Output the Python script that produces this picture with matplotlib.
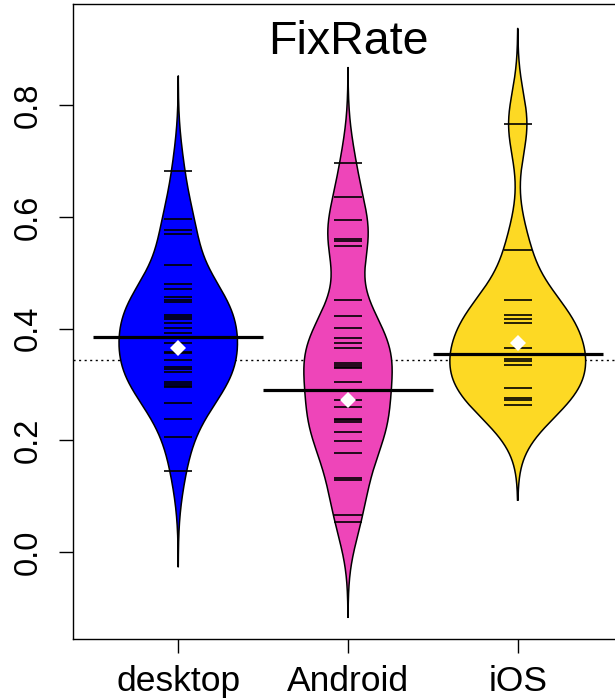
import numpy as np
import matplotlib
matplotlib.use("Agg")
import matplotlib.pyplot as plt

plt.rcParams['font.family'] = ['Liberation Sans', 'DejaVu Sans']

# Groups and observed FixRate values per group
groups = ["desktop", "Android", "iOS"]
desktop = [0.682, 0.597, 0.576, 0.570, 0.515, 0.481, 0.471, 0.456, 0.451, 0.447,
           0.425, 0.421, 0.418, 0.410, 0.402, 0.393, 0.375, 0.359, 0.356, 0.344,
           0.332, 0.328, 0.323, 0.304, 0.301, 0.298, 0.296, 0.267, 0.238, 0.206,
           0.145]
android = [0.697, 0.636, 0.595, 0.561, 0.557, 0.549, 0.451, 0.422, 0.402, 0.384,
           0.374, 0.366, 0.338, 0.335, 0.332, 0.329, 0.305, 0.272, 0.259, 0.239,
           0.236, 0.233, 0.215, 0.199, 0.177, 0.133, 0.129, 0.066, 0.054]
ios = [0.767, 0.541, 0.451, 0.425, 0.417, 0.410, 0.365, 0.346, 0.343, 0.335,
       0.294, 0.276, 0.273, 0.264]

# Per-bean average line, white diamond markers and the overall line
bean_avg = [0.386, 0.291, 0.355]
diamond = [0.365, 0.273, 0.374]
overall = 0.344

colors = ["#0000FF", "#EE45B9", "#FDD924"]
y_ticks = [0.0, 0.2, 0.4, 0.6, 0.8]

data = [np.asarray(desktop), np.asarray(android), np.asarray(ios)]

bw = 0.057      # shared Gaussian kernel bandwidth
cut = 3.0
maxwidth = 0.8


def kde(values, grid, h):
    z = (grid[:, None] - values[None, :]) / h
    return np.exp(-0.5 * z ** 2).sum(axis=1) / (len(values) * h * np.sqrt(2 * np.pi))


grids, dens = [], []
for v in data:
    g = np.linspace(v.min() - cut * bw, v.max() + cut * bw, 600)
    grids.append(g)
    dens.append(kde(v, g, bw))
dmax = max(d.max() for d in dens)

fig = plt.figure(figsize=(6.15, 6.98), dpi=100)
ax = fig.add_axes([0.1187, 0.0845, 1.013 - 0.1187, 0.9936 - 0.0845])

ax.axhline(overall, color="black", lw=1.0, ls=(0, (1.5, 2.5)), zorder=1)

for i, (v, g, d, c) in enumerate(zip(data, grids, dens, colors)):
    pos = i + 1
    w = d / dmax * maxwidth / 2
    ax.fill_betweenx(g, pos - w, pos + w, facecolor=c, edgecolor="none", zorder=2)
    ax.plot(np.r_[pos - w, (pos + w)[::-1]], np.r_[g, g[::-1]],
            color="black", lw=1.1, zorder=3)
    ax.hlines(v, pos - 0.083, pos + 0.083, color="black", lw=1.2, zorder=4)
    ax.hlines(bean_avg[i], pos - 0.5, pos + 0.5, color="black", lw=2.3, zorder=5)
    ax.plot(pos, diamond[i], marker="D", ms=8.5, color="white",
            markeredgewidth=0, zorder=6)

ax.set_xlim(0.38, 3.62)
ax.set_ylim(-0.156, 0.981)

ax.set_xticks([1, 2, 3])
ax.set_xticklabels(groups, fontsize=25.5)
ax.set_yticks(y_ticks)
ax.set_yticklabels([f"{t:.1f}" for t in y_ticks], fontsize=23.5,
                   rotation=90, va="center")
ax.tick_params(axis="both", length=10, width=1.0, color="black")
ax.tick_params(axis="x", pad=9)
ax.tick_params(axis="y", pad=11)

ax.spines["right"].set_visible(False)
for s in ("left", "top", "bottom"):
    ax.spines[s].set_linewidth(1.0)

ax.text(0.5, 0.941, "FixRate", transform=ax.transAxes, ha="center",
        va="center", fontsize=33.5)

fig.savefig("out.png", dpi=100)
